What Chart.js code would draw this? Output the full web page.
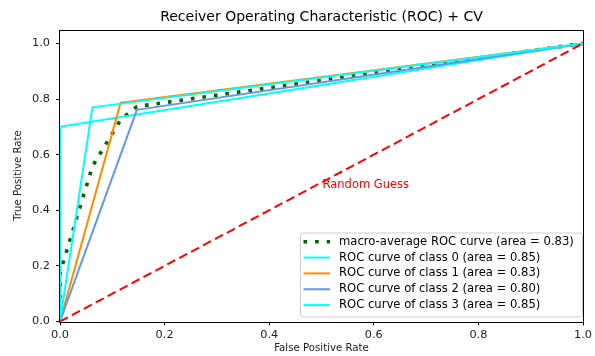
<!DOCTYPE html>
<html>
<head>
<meta charset="utf-8">
<script src="https://cdn.jsdelivr.net/npm/chart.js@4/dist/chart.umd.min.js"></script>
<style>
  html, body { margin: 0; padding: 0; background: #fff; }
  #c { display: block; }
</style>
</head>
<body>
<canvas id="c" width="595" height="356"></canvas>
<script>
// ---- data ----
const chartTitle = "Receiver Operating Characteristic (ROC) + CV";
const xLabel = "False Positive Rate";
const yLabel = "True Positive Rate";
const xTicks = [0, 0.2, 0.4, 0.6, 0.8, 1.0];
const yTicks = [0, 0.2, 0.4, 0.6, 0.8, 1.0];

const macroFpr = [0, 0, 0.062, 0.116, 0.147, 1];
const macroTpr = [0, 0.175, 0.558, 0.726, 0.773, 1];

const class0Fpr = [0, 0, 1];
const class0Tpr = [0, 0.70, 1];

const class1Fpr = [0, 0.116, 1];
const class1Tpr = [0, 0.787, 1];

const class2Fpr = [0, 0.147, 1];
const class2Tpr = [0, 0.761, 1];

const class3Fpr = [0, 0.062, 1];
const class3Tpr = [0, 0.77, 1];

const diagFpr = [0, 1];
const diagTpr = [0, 1];

const seriesLabels = [
  "macro-average ROC curve (area = 0.83)",
  "ROC curve of class 0 (area = 0.85)",
  "ROC curve of class 1 (area = 0.83)",
  "ROC curve of class 2 (area = 0.80)",
  "ROC curve of class 3 (area = 0.85)"
];
const randomGuessText = "Random Guess";
const randomGuessPos = [0.5, 0.5];

// ---- build ----
const FONT = "'DejaVu Sans', sans-serif";
function pts(xs, ys) { return xs.map((x, i) => ({ x: x, y: ys[i] })); }

const series = [
  { fpr: macroFpr, tpr: macroTpr, color: "#006400", width: 3.6, dash: [3.6, 8] },
  { fpr: class0Fpr, tpr: class0Tpr, color: "#00FFFF", width: 2, dash: [] },
  { fpr: class1Fpr, tpr: class1Tpr, color: "#FF8C00", width: 2, dash: [] },
  { fpr: class2Fpr, tpr: class2Tpr, color: "#6495ED", width: 2, dash: [] },
  { fpr: class3Fpr, tpr: class3Tpr, color: "#00FFFF", width: 2, dash: [] }
];

const datasets = series.map((s, i) => ({
  label: seriesLabels[i],
  data: pts(s.fpr, s.tpr),
  borderColor: s.color,
  backgroundColor: s.color,
  borderWidth: s.width,
  borderDash: s.dash,
  borderJoinStyle: "round",
  showLine: true,
  pointRadius: 0,
  tension: 0,
  fill: false,
  clip: 0,
  order: 20 - i
}));
datasets.push({
  label: "diag",
  data: pts(diagFpr, diagTpr),
  borderColor: "#FF0000",
  borderWidth: 2,
  borderDash: [9, 4.5],
  showLine: true,
  pointRadius: 0,
  tension: 0,
  fill: false,
  clip: 0,
  order: 1
});

const decor = {
  id: "decor",
  afterDatasetsDraw(chart) {
    const ctx = chart.ctx;
    const a = chart.chartArea;
    const xs = chart.scales.x, ys = chart.scales.y;
    ctx.save();
    // random guess text
    ctx.fillStyle = "#FF0000";
    ctx.font = "11.5px " + FONT;
    ctx.textAlign = "left";
    ctx.textBaseline = "alphabetic";
    ctx.fillText(randomGuessText, xs.getPixelForValue(randomGuessPos[0]) + 1, ys.getPixelForValue(randomGuessPos[1]) + 6);
    // frame
    ctx.strokeStyle = "#000";
    ctx.lineWidth = 1;
    ctx.strokeRect(Math.round(a.left) - 0.5, Math.round(a.top) + 0.5, Math.round(a.right) - Math.round(a.left) + 1, Math.round(a.bottom) - Math.round(a.top));
    // title
    ctx.fillStyle = "#000";
    ctx.font = "14px " + FONT;
    ctx.textAlign = "center";
    ctx.textBaseline = "middle";
    ctx.fillText(chartTitle, (a.left + a.right) / 2, 17.5);
    // legend
    const lx = 300, ly = 232.5, lw = 282, lh = 84;
    ctx.beginPath();
    if (ctx.roundRect) ctx.roundRect(lx + 0.5, ly + 0.5, lw, lh, 3); else ctx.rect(lx + 0.5, ly + 0.5, lw, lh);
    ctx.fillStyle = "rgba(255,255,255,0.8)";
    ctx.fill();
    ctx.strokeStyle = "#cccccc";
    ctx.lineWidth = 1;
    ctx.stroke();
    ctx.font = "11.6px " + FONT;
    ctx.textAlign = "left";
    ctx.textBaseline = "middle";
    series.forEach((s, i) => {
      const cy = 241.7 + i * 15.85;
      ctx.beginPath();
      ctx.setLineDash(s.dash);
      ctx.lineWidth = s.width;
      ctx.strokeStyle = s.color;
      ctx.moveTo(303.5, cy);
      ctx.lineTo(330, cy);
      ctx.stroke();
      ctx.setLineDash([]);
      ctx.fillStyle = "#000";
      ctx.fillText(seriesLabels[i], 339, cy);
    });
    ctx.restore();
  }
};

const tickFont = { family: FONT, size: 11.3 };
new Chart(document.getElementById("c"), {
  type: "scatter",
  data: { datasets: datasets },
  plugins: [decor],
  options: {
    responsive: false,
    animation: false,
    devicePixelRatio: 1,
    events: [],
    layout: { padding: { left: 0, right: 8, top: 29.5, bottom: 0 } },
    plugins: { legend: { display: false }, title: { display: false }, tooltip: { enabled: false } },
    scales: {
      x: {
        type: "linear", min: 0, max: 1,
        afterFit: (s) => { s.height = 34.5; },
        afterBuildTicks: (s) => { s.ticks = xTicks.map(v => ({ value: v })); },
        ticks: { font: tickFont, color: "#222", padding: 3, maxRotation: 0, autoSkip: false,
                 callback: (v) => Number(v).toFixed(1) },
        grid: { drawOnChartArea: false, drawTicks: true, tickLength: 4, color: "#000" },
        border: { display: false },
        title: { display: true, text: xLabel, font: { family: FONT, size: 10.2 }, color: "#222", padding: { top: 0, bottom: 1.5 } }
      },
      y: {
        type: "linear", min: 0, max: 1.05,
        afterFit: (s) => { s.width = 60; },
        afterBuildTicks: (s) => { s.ticks = yTicks.map(v => ({ value: v })); },
        ticks: { font: tickFont, color: "#222", padding: 6, autoSkip: false,
                 callback: (v) => Number(v).toFixed(1) },
        grid: { drawOnChartArea: false, drawTicks: true, tickLength: 4, color: "#000" },
        border: { display: false },
        title: { display: true, text: yLabel, font: { family: FONT, size: 10.2 }, color: "#222", padding: { top: 12, bottom: 0 } }
      }
    }
  }
});
</script>
</body>
</html>
